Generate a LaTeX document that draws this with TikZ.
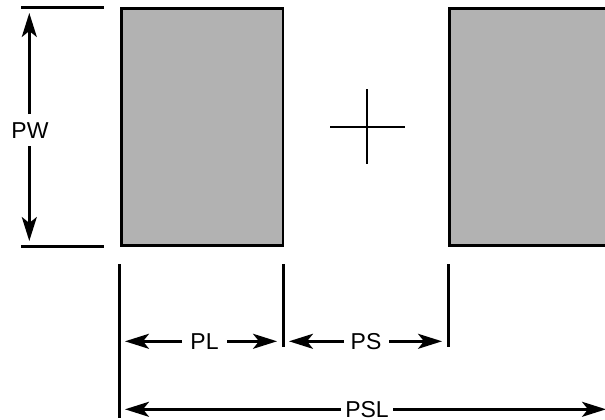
\documentclass[tikz,border=0pt]{standalone}
\usepackage{fontspec}
\setmainfont{Liberation Sans}
\usetikzlibrary{arrows.meta}
\definecolor{padgray}{RGB}{178,178,178}
\tikzset{
  padbox/.style={draw=black,fill=padgray,line width=2.5pt,minimum height=237pt,inner sep=0pt,outer sep=0pt},
  rule/.style={line width=2.5pt,draw=black},
  thinrule/.style={line width=2pt,draw=black},
  dimline/.style={line width=2.5pt,draw=black,-{Stealth[length=24pt,width=15pt,inset=6pt]},shorten >=-1pt},
  dimlabel/.style={font=\fontsize{23pt}{25pt}\selectfont,inner sep=0pt,outer sep=0pt,text=black}
}
\begin{document}
\begin{tikzpicture}[x=1pt,y=-1pt]
\useasboundingbox (0,0) rectangle (605,420);
\clip (0,0) rectangle (605,420);
% pads
\node[padbox,minimum width=161.5pt] (padA) at (202,127) {};
\node[padbox,minimum width=162pt] (padB) at (530.5,127) {};
% centre cross
\coordinate (crossW) at (330,127);
\coordinate (crossE) at (405,127);
\coordinate (crossN) at (367,89);
\coordinate (crossS) at (367,164);
\draw[thinrule] (crossW) -- (crossE);
\draw[thinrule] (crossN) -- (crossS);
% PW extension lines
\coordinate (topL) at (21,7.3);
\coordinate (topR) at (104,7.3);
\coordinate (botL) at (21,246.3);
\coordinate (botR) at (104,246.3);
\draw[rule] (topL) -- (topR);
\draw[rule] (botL) -- (botR);
% vertical extension lines
\coordinate (e1t) at (119.3,264); \coordinate (e1b) at (119.3,418);
\coordinate (e2t) at (283.3,264); \coordinate (e2b) at (283.3,347);
\coordinate (e3t) at (448.3,264); \coordinate (e3b) at (448.3,347);
\draw[rule] (e1t) -- (e1b);
\draw[rule] (e2t) -- (e2b);
\draw[rule] (e3t) -- (e3b);
% labels
\node[dimlabel] (PW) at (30,131) {PW};
\node[dimlabel] (PL) at (204.5,341.5) {PL};
\node[dimlabel] (PS) at (366,341.5) {PS};
\node[dimlabel] (PSL) at (367,409.5) {PSL};
% arrow ends
\coordinate (pwT) at (29.3,14);
\coordinate (pwB) at (29.3,240);
\coordinate (pwU) at (29.3,114);
\coordinate (pwD) at (29.3,146);
\coordinate (plL) at (126,341.3);
\coordinate (plR) at (276,341.3);
\coordinate (plA) at (182,341.3);
\coordinate (plB) at (227,341.3);
\coordinate (psL) at (290,341.3);
\coordinate (psR) at (441,341.3);
\coordinate (psA) at (344,341.3);
\coordinate (psB) at (389,341.3);
\coordinate (pslL) at (126,409.3);
\coordinate (pslR) at (605,409.3);
\coordinate (pslA) at (341,409.3);
\coordinate (pslB) at (393,409.3);
\draw[dimline] (pwU) -- (pwT);
\draw[dimline] (pwD) -- (pwB);
\draw[dimline] (plA) -- (plL);
\draw[dimline] (plB) -- (plR);
\draw[dimline] (psA) -- (psL);
\draw[dimline] (psB) -- (psR);
\draw[dimline] (pslA) -- (pslL);
\draw[dimline] (pslB) -- (pslR);
\end{tikzpicture}
\end{document}
